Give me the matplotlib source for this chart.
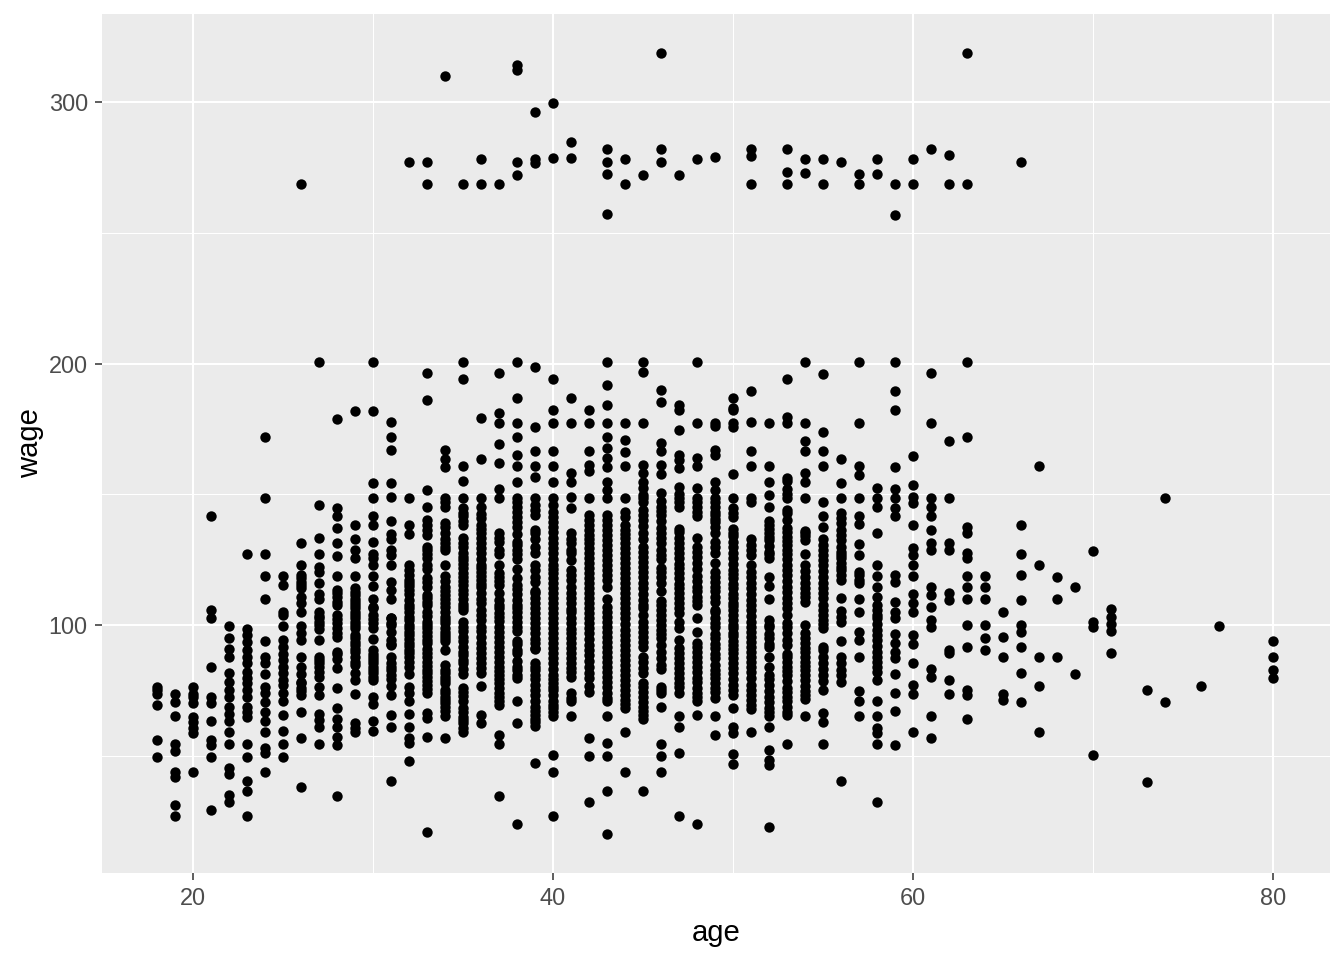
import matplotlib
matplotlib.use('Agg')
from matplotlib import pyplot as plt

wage_18 = [76.6, 75.3, 73.8, 69.6, 56.3, 49.8]
wage_19 = [73.8, 70.9, 65.4, 54.6, 52.1, 44.2, 42, 31.5, 27.3]
wage_20 = [76.6, 74, 72.8, 70.3, 65.2, 63.3, 60.7, 58.8, 44.1]
wage_21 = [141.8, 105.9, 103, 84.3, 72.8, 70.3, 63.5, 56.3, 54.4, 49.9, 29.5]
wage_22 = [99.9, 95.3, 90.9, 87.8, 81.7, 78.5, 75.3, 72.8, 69, 66.4, 63.6, 59.4, 54.6, 45.5, 43.5, 35.3, 32.7]
wage_23 = [127.3, 98.6, 96.3, 93.8, 90.6, 88.1, 85.5, 82.3, 79.8, 77.9, 75.3, 72.8, 69, 67.1, 65.2, 54.6, 49.9, 40.7, 36.8, 27.3]
wage_24 = [172, 148.6, 127.3, 118.9, 110.1, 94.1, 88.1, 85.5, 81.5, 76.6, 74.1, 70.9, 67.1, 63.6, 59.4, 53.1, 51.2, 44.1]
wage_25 = [118.9, 115.4, 105.2, 104, 99.9, 94.4, 91.9, 89.3, 86.8, 84.3, 81.7, 79.2, 77.3, 74.1, 71.3, 65.8, 59.7, 54.6, 49.9]
wage_26 = [268.5, 131.3, 123, 119.2, 118, 116.7, 115.5, 114.2, 111, 108.7, 105.2, 99.9, 97, 94.4, 88.1, 84.3, 81.5, 78.5, 78, 76, 75, 73.4, 67.1, 57.2, 38.5]
wage_27 = [200.6, 146, 133.5, 127.3, 122.2, 120.5, 116.3, 112.2, 110.3, 105.2, 103.5, 102.7, 101.5, 100.2, 98.5, 94.4, 88.1, 87, 85.5, 84, 82.3, 80.4, 76.6, 73.4, 66.4, 63.9, 61.4, 54.7]
wage_28 = [179, 144.7, 141.8, 137.3, 131.3, 126.5, 118.9, 113.5, 112.5, 111, 109.1, 107.8, 104, 102.5, 100.8, 99, 97, 95.5, 90, 89, 87.4, 83.6, 76.1, 68.4, 64.5, 61.4, 57.5, 54.4, 35]
wage_29 = [182, 138.3, 133, 128.8, 125.6, 118.9, 114.5, 112.9, 111.5, 110.3, 109, 107.8, 106.5, 105.2, 104, 102.7, 101.5, 100.2, 99, 96.5, 95.1, 93.7, 92.5, 91, 90, 88, 86.2, 85, 81.7, 79.2, 73.8, 62.6, 60.7, 59.4]
wage_30 = [200.6, 182, 154.2, 148.6, 141.8, 138.3, 131.8, 127.3, 125.6, 123, 118.9, 115, 110.1, 107, 106.5, 104, 102.5, 100.8, 99, 94.7, 90.5, 89.3, 88, 86.8, 85.5, 84.3, 83, 81.7, 80.5, 79.2, 72.8, 70, 63.6, 59.7]
wage_31 = [177.7, 172, 167, 154.5, 149.1, 139.9, 135.1, 133.2, 128.8, 126.9, 123, 116.7, 113.5, 110.1, 103, 102.7, 101, 100.2, 97.5, 94.4, 93, 92.5, 88.1, 85.5, 84.3, 83, 81.1, 79.5, 76.9, 73.4, 65.8, 61.4, 40.6]
wage_32 = [277, 148.6, 138.3, 135.1, 123, 121, 119.2, 117.5, 116.1, 115, 113.5, 112.2, 109.7, 108, 106.5, 105, 103.3, 102, 100.2, 99, 97.7, 96.3, 95, 93.2, 92, 90.6, 89.5, 88.1, 86, 84.3, 81.5, 76.6, 74.1, 71.3, 66.4, 61.4, 56.9, 55, 48.2]
wage_33 = [277, 268.5, 196.4, 186, 151.7, 145.4, 140.3, 136.5, 134.5, 128.8, 125.6, 123.1, 116.7, 114.8, 110.4, 107.8, 105.3, 100.2, 97.6, 94.5, 89.4, 86.2, 83, 80.5, 77.3, 74.1, 66.5, 64.6, 57.6, 21.3]
wage_34 = [309.7, 167, 163.4, 160.6, 148.5, 145.4, 137.7, 135.2, 131.4, 128.8, 123.1, 119, 114.8, 111.6, 108.5, 105.3, 100.8, 97.6, 95.1, 90.6, 83, 80.5, 77.9, 74.1, 71.6, 69, 65.5, 57.2]
wage_35 = [268.5, 200.6, 194, 161, 155, 148.8, 144.7, 141.8, 138.4, 131.6, 127.6, 125, 118.6, 115.5, 110, 107, 99.6, 95.7, 91.9, 88.7, 85.6, 81.5, 74.7, 68.4, 65.2, 62.7, 59.5]
wage_36 = [278, 268.5, 179.3, 163.6, 148.8, 145.4, 140.9, 138.4, 135.2, 131.4, 127.6, 123.1, 119, 114.8, 110, 105.9, 99.6, 95.7, 91.3, 87.5, 83.6, 76.9, 65.8, 62.7]
wage_37 = [268.5, 196.4, 181.2, 177.4, 169.4, 162.2, 152, 148.5, 135.2, 131.7, 127.3, 123.1, 118.6, 115.5, 109.7, 106.6, 103.4, 99.6, 95.7, 91.9, 88.1, 84.3, 81.1, 77.9, 74.1, 71, 58.2, 54.8, 34.9]
wage_38 = [314, 312, 277, 272, 200.6, 187, 177.4, 172.1, 165.1, 160.9, 154.9, 148.5, 145.1, 141.5, 137.7, 130.7, 127.3, 121.6, 115.5, 109.7, 106.6, 103.4, 99.6, 94.2, 89.4, 84.3, 81.1, 71, 62.7, 24.2]
wage_39 = [296, 278, 276.5, 198.6, 175.9, 166.7, 160.9, 156.8, 148.8, 144.1, 135.2, 130.1, 123.1, 118.6, 112.3, 108.5, 104.6, 100.8, 97, 93.2, 91.3, 84.3, 81.1, 77.3, 73.5, 69, 65.8, 63.3, 47.6]
wage_40 = [299.4, 278.4, 194, 182.2, 177.4, 166.7, 160.9, 154.9, 148.5, 146, 141.5, 137.7, 133.3, 127.6, 123.1, 119.9, 116.1, 112.3, 108.5, 104.6, 100.8, 97, 93.2, 89.4, 85.6, 81.1, 77.9, 75.4, 71, 68.4, 65.5, 50.6, 44.2, 27.3]
wage_41 = [284.6, 278.4, 187, 177.4, 158.1, 154.9, 148.9, 144.7, 135.2, 131.4, 127.6, 125, 119.3, 114.8, 110.4, 105.3, 100.8, 97, 93.2, 89.4, 85.6, 82.4, 74.1, 71, 65.5]
wage_42 = [182.2, 177.4, 166.7, 161.3, 159, 148.5, 142.2, 138.4, 134.5, 131.4, 127.6, 123.7, 119.9, 116.1, 112.3, 108.5, 104.6, 100.8, 97, 92.6, 88.7, 84.3, 79.8, 74.7, 57.2, 50, 32.8]
wage_43 = [282, 277, 272.3, 257, 200.6, 191.8, 184.2, 177.4, 172.1, 167.6, 163.8, 160.6, 154.9, 151.7, 148.5, 142.2, 138.4, 134.5, 130.7, 126.9, 123.1, 119.3, 114.8, 110.1, 105.3, 101.5, 97.6, 93.8, 90, 86.2, 82.4, 78.6, 74.1, 71, 65.5, 55, 50, 37, 20.4]
wage_44 = [278, 268.5, 177.4, 170.8, 166.4, 160.9, 148.8, 143.5, 141.5, 136.5, 133.3, 129.5, 125.6, 121.8, 118, 114.2, 110.4, 106.6, 102.7, 98.3, 94.5, 90.7, 86.8, 83, 79.2, 75.4, 71.6, 68.4, 59.5, 44.2]
wage_45 = [272, 200.6, 196.8, 177.4, 161.3, 158.1, 154.9, 149.8, 147.3, 144.1, 140.3, 135.2, 130.1, 126.3, 122.5, 118.6, 114.2, 109.7, 106.6, 101.5, 97.6, 93.8, 88.1, 83.6, 76.6, 72.8, 69, 65.8, 37]
wage_46 = [318.5, 282, 277, 190, 185.4, 169.5, 166.7, 161.3, 157.8, 150.7, 145.4, 142.2, 135.2, 131.4, 126.9, 120.6, 116.1, 107.8, 104, 100.2, 95.1, 90, 84.9, 76.6, 74.1, 69, 54.8, 50, 44.2]
wage_47 = [272, 184.2, 182.2, 174.6, 163.2, 160, 153, 148.5, 145.4, 135.8, 131.4, 127.6, 121.8, 118, 114.2, 110.4, 106.6, 101.5, 94.5, 89.4, 85.6, 81.8, 78, 74.1, 65.5, 61.4, 51.5, 27.3]
wage_48 = [278, 200.6, 177.4, 163.8, 160.9, 152.4, 148.5, 145.4, 141.8, 133.5, 128.2, 123.7, 119, 114.8, 111, 107.8, 103, 97.6, 91.9, 88.1, 84.3, 78.6, 74.1, 71, 65.8, 24.2]
wage_49 = [279, 177.4, 176.1, 167, 165.1, 154.9, 151.7, 148.5, 145.4, 142.2, 139.6, 135.2, 130.1, 123.7, 118.6, 114.8, 111, 105.3, 100.8, 95.1, 91.3, 87.5, 83, 79.8, 76, 72.2, 65.5, 58.2]
wage_50 = [187, 183, 182.2, 177.2, 175.9, 157.8, 148.5, 144.7, 141.5, 135.2, 132, 127.6, 125.6, 121.2, 118, 114.2, 110.4, 105.9, 102.1, 98.9, 95.8, 92.6, 89.4, 85.6, 81.8, 77.3, 73.5, 68.4, 61.4, 58.8, 51, 47.1]
wage_51 = [282, 279.3, 268.5, 189.5, 177.7, 166.7, 160.9, 148.5, 147.3, 130.7, 126.9, 123.1, 118.6, 114.2, 109.7, 105.9, 101.5, 97.6, 93.8, 90, 86.2, 82.4, 77.3, 73.5, 69.7, 59.5]
wage_52 = [177.4, 160.9, 154.9, 149.8, 145.4, 138.4, 135.2, 132.6, 128.2, 118.6, 115.1, 110, 102.1, 99.6, 95.1, 91.9, 88.1, 81.1, 77.3, 72.8, 68.4, 65.5, 61.4, 52.5, 48.7, 46.8, 23.2]
wage_53 = [282, 273, 268.5, 194, 179.7, 177.4, 156.2, 152, 148.5, 142.8, 137.1, 133.9, 130.7, 127.3, 123.1, 119.3, 114.8, 110.4, 106.6, 99.6, 94.5, 88.1, 84.3, 81.1, 74.7, 71, 67.1, 54.8]
wage_54 = [278, 272.7, 200.6, 177.4, 170.6, 166.7, 158.3, 154.9, 148.8, 135.2, 132.6, 127.3, 123.1, 118.6, 116.1, 112.3, 109.1, 100, 95.1, 91.3, 88.1, 83, 79.2, 73.5, 65.5]
wage_55 = [278, 268.5, 196, 174, 166.7, 160.9, 147.3, 141.8, 137.7, 130.7, 126.9, 123.1, 118.6, 114.2, 110.4, 105.9, 102.1, 98.9, 90.7, 85.6, 81.1, 75.4, 66.5, 63.3, 54.8]
wage_56 = [277, 163.5, 154.5, 148.8, 142.8, 140.9, 139, 134.5, 132.6, 130.1, 128.2, 125.6, 122.5, 119.3, 110.4, 105.7, 103.4, 101.5, 94.2, 88.1, 85.6, 83, 81.1, 40.8]
wage_57 = [272.3, 268.5, 200.6, 177.4, 160.9, 157.4, 148.8, 141.8, 138.7, 131.1, 126.9, 119.3, 116.1, 110.1, 105.2, 97.6, 94.5, 88.1, 75.1, 71.2, 65.5]
wage_58 = [278, 272.3, 152.4, 148.8, 145.4, 135.4, 123.1, 119, 114.8, 111, 105.9, 102.7, 98.3, 94.5, 90, 86.2, 82.4, 79.2, 71, 65.5, 60.7, 58.8, 54.8, 32.8]
wage_59 = [268.5, 256.7, 200.6, 189.5, 182.3, 160.6, 152, 148.5, 144.7, 141.8, 119.3, 116.7, 109.1, 105.3, 102.7, 96.8, 93.2, 90, 87.5, 81.5, 74.1, 67.5, 54.4]
wage_60 = [278, 268.5, 164.7, 153.6, 149.2, 146.6, 138.4, 129.5, 126.9, 123.1, 119, 112, 108.5, 105.3, 96.4, 93, 85.6, 77.3, 73.9, 59.5]
wage_61 = [282, 196.4, 177.4, 148.8, 145.4, 141.8, 136.5, 131.4, 128.8, 114.8, 111.6, 107.2, 102.1, 99.6, 83.3, 80.2, 65.5, 57.2]
wage_62 = [279.6, 268.5, 170.3, 148.8, 131.4, 128.8, 112.3, 109.7, 90.7, 89.4, 79.2, 73.9]
wage_63 = [318.5, 268.5, 200.6, 172.1, 137.7, 135.2, 127.6, 125.6, 119, 114.8, 110.1, 100.2, 91.9, 75.4, 73.5, 64.3]
wage_64 = [119, 114.8, 110.1, 100, 95.2, 90.6]
wage_65 = [105.2, 95.6, 88, 74, 71.5]
wage_66 = [277, 138.4, 127.3, 119.3, 109.7, 100.2, 97.5, 91.8, 82, 70.8]
wage_67 = [160.9, 123, 88, 77, 59.4]
wage_68 = [118.5, 110, 88]
wage_69 = [114.7, 81.5]
wage_70 = [128.4, 101.3, 99.4, 50.6]
wage_71 = [106.3, 103.2, 100.6, 97.9, 89.5]
wage_73 = [75.4, 40.3]
wage_74 = [148.7, 70.8]
wage_76 = [76.9]
wage_77 = [99.8]
wage_80 = [94, 88, 83, 80]

# more points read from the solid runs in the dense columns
more_33 = [138.5, 130, 127.2, 121.5, 118, 111.8, 109, 103.7, 101.5, 99, 96, 93.2, 91, 87.8, 84.6, 81.8, 78.9, 75.7]
more_34 = [147, 139, 133, 130, 117, 113.2, 110, 107, 103.1, 102.2, 99.2, 96.3, 94, 85, 81.8, 79.2, 75.4, 72.8, 70.3, 67.3]
more_35 = [143, 140, 133.4, 129.8, 126.2, 123.5, 122, 120, 117, 113.5, 112, 108.2, 106, 101.3, 98, 94, 90, 87, 83.5, 76, 73, 71, 67, 64, 61]
more_36 = [142.5, 137, 133.5, 129.5, 125.5, 122, 120.6, 117.5, 116, 112.5, 108.5, 104, 102, 98, 93.5, 89.5, 85.5, 82]
more_37 = [133.5, 129, 120, 117, 112.3, 108, 104.8, 101.8, 97.7, 93.6, 90, 86, 82.8, 79.6, 76, 72.6, 69.5]
more_38 = [147, 143.3, 139.6, 135, 132, 129, 125.5, 118, 114, 112, 108, 105, 101.5, 98, 93, 90.6, 86.5, 83, 79.8]
more_39 = [146, 142, 136.5, 133, 127.5, 121, 116.5, 113.2, 110.5, 106.5, 102.7, 99, 95, 91, 85.5, 83, 79.5, 75.5, 71, 67.5, 64.5, 61.5]
more_40 = [143.5, 139.6, 135.5, 131.5, 129.5, 125.3, 121.5, 118, 114.2, 110.4, 106.6, 102.7, 98.9, 95.1, 91.3, 87.5, 83.4, 79.5, 76.6, 73.5, 69.7, 67]
more_41 = [133, 129, 121, 117.2, 112.5, 108.5, 106.2, 103, 98.8, 95.1, 91.3, 87.5, 83.6, 80.5, 72.5]
more_42 = [140.3, 136.4, 132.9, 129.5, 125.6, 121.8, 118, 114.2, 110.4, 106.6, 102.7, 98.9, 95, 90.6, 86.5, 82, 77]
more_43 = [140.3, 136.4, 132.6, 128.8, 125, 121.2, 117.5, 107.2, 103.4, 99.6, 95.7, 91.9, 88.1, 84.3, 80.5, 76.6, 72.5]
more_44 = [138.4, 134.9, 131.4, 127.6, 123.7, 119.9, 116.1, 112.3, 108.5, 104.6, 100.5, 96.4, 92.6, 88.7, 84.9, 81.1, 77.3, 73.5, 70]
more_45 = [152.4, 148.8, 142, 138, 133, 128, 124.4, 120.6, 116.4, 112, 108, 104, 99.6, 95.7, 91.9, 86, 81.8, 78, 74.7, 70.9, 67.4, 64.5]
more_46 = [147.5, 143.8, 140, 137.3, 133.3, 129, 125.5, 122, 118.4, 113, 109.5, 106, 102, 98.3, 96.9, 92.6, 87.5, 83.5, 75.4]
more_47 = [165, 150, 147, 137, 133.5, 129.5, 125.7, 123.5, 120, 116, 112.3, 108.5, 104.6, 99, 91.3, 87.5, 83.7, 80, 76.5]
more_48 = [147, 143.5, 130, 126, 121.5, 117, 113, 109.5, 93.5, 90, 86.2, 82.4, 80, 76.3, 72.7]
more_49 = [147, 143.5, 140.7, 137.7, 132, 127.6, 120.5, 116.5, 113, 109, 106, 103, 99.5, 96.9, 93, 89, 85, 81.5, 78, 74.5]
more_50 = [143, 137, 134, 129.8, 123.5, 119.7, 116, 112, 108.5, 107.5, 104, 100, 97, 94.2, 91, 87.5, 83.7, 79.5, 75.4]
more_51 = [133, 128.8, 120.5, 116.4, 112, 107.8, 103.7, 99.6, 95.7, 91.9, 88.1, 84.3, 80, 75.4, 71.6, 68]
more_52 = [140, 137, 133.9, 130.4, 127.3, 125.6, 100.2, 96.8, 93, 84, 79.5, 75, 70.7, 67]
more_53 = [155, 150, 144, 140.3, 135.5, 132.3, 129, 125.5, 121.2, 117, 112.6, 108.5, 104, 101, 97, 92.6, 89, 86.2, 82.7, 79, 76, 72.8, 69, 66]
more_54 = [136, 134, 120.8, 114.2, 110.7, 97, 93.2, 89.7, 86, 84.6, 81, 77, 75, 71.8]
more_55 = [133, 128.8, 125, 120.9, 116.4, 112.3, 108, 104, 100.5, 91.8, 88.1, 83.3, 79]
more_56 = [136.4, 127, 124, 121, 117.5, 78.5]
more_57 = [120.5, 117.5]
more_58 = [107.8, 104, 100.4, 96.5, 92.2, 88.1, 84.3]

ages = list(range(18, 72)) + [73, 74, 76, 77, 80]
x = []
y = []
for a in ages:
    for w in globals()['wage_%d' % a] + globals().get('more_%d' % a, []):
        x.append(a)
        y.append(w)

x_major = [20, 40, 60, 80]
x_minor = [30, 50, 70]
y_major = [100, 200, 300]
y_minor = [50, 150, 250]

plt.rcParams['font.family'] = ['Liberation Sans', 'DejaVu Sans']

fig = plt.figure(figsize=(13.44, 9.6), dpi=100)
ax = fig.add_axes([102 / 1344, 1 - 873 / 960, (1330 - 102) / 1344, (873 - 14) / 960])
ax.set_facecolor('#EBEBEB')
for s in ax.spines.values():
    s.set_visible(False)

ax.scatter(x, y, s=56, color='black', linewidths=0, zorder=3)

ax.set_xlim(14.94, 83.17)
ax.set_ylim(5.53, 333.4)
ax.set_xticks(x_major)
ax.set_xticks(x_minor, minor=True)
ax.set_yticks(y_major)
ax.set_yticks(y_minor, minor=True)
ax.grid(which='major', color='white', linewidth=1.45, zorder=1)
ax.grid(which='minor', color='white', linewidth=0.75, zorder=1)
ax.set_axisbelow(True)
ax.tick_params(which='major', length=5.3, width=1.1, color='#333333', labelcolor='#4D4D4D', labelsize=16.9, pad=5)
ax.tick_params(which='minor', length=0)
ax.set_xlabel('age', fontsize=21.1, color='black', labelpad=6.5)
ax.set_ylabel('wage', fontsize=21.1, color='black', labelpad=3)

fig.savefig('out.png', dpi=100)
